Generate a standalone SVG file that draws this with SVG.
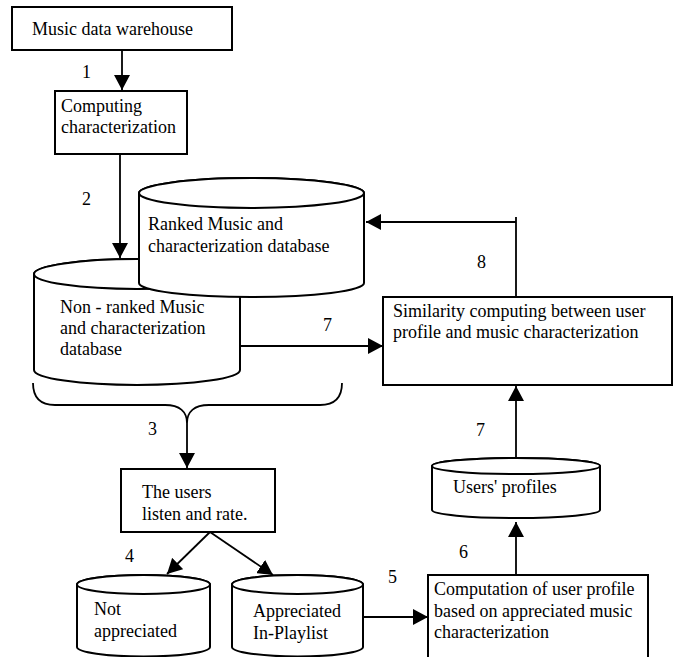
<svg xmlns="http://www.w3.org/2000/svg" width="675" height="657" viewBox="0 0 675 657">
<style>
  .box{fill:#fff;stroke:#000;stroke-width:2}
  .cyl{fill:#fff;stroke:#000;stroke-width:2}
  .ln{fill:none;stroke:#000;stroke-width:1.8}
  text{font-family:"Liberation Serif","Times New Roman",serif;font-size:18px;fill:#000}
</style>
<defs>
  <marker id="ah" markerUnits="userSpaceOnUse" markerWidth="16" markerHeight="16" viewBox="0 0 16 16" refX="15" refY="8" orient="auto">
    <path d="M0,0 L15,8 L0,16 Z" fill="#000"/>
  </marker>
</defs>
<rect width="675" height="657" fill="#fff"/>

<g id="warehouse">
  <rect class="box" x="12" y="7" width="220" height="43"/>
  <text x="32" y="35">Music data warehouse</text>
</g>
<g id="computing">
  <rect class="box" x="55" y="91" width="132" height="63"/>
  <text x="61" y="112">Computing</text>
  <text x="61" y="133">characterization</text>
</g>
<g id="nonranked">
  <path class="cyl" d="M34,274 L34,370 A103,15 0 0 0 240,370 L240,274 A103,15 0 0 0 34,274 Z"/>
  <ellipse class="cyl" cx="137" cy="274" rx="103" ry="15"/>
  <text x="60" y="313">Non - ranked Music</text>
  <text x="60" y="334">and characterization</text>
  <text x="60" y="355">database</text>
</g>
<g id="ranked">
  <path class="cyl" d="M139,193 L139,283 A112.5,14 0 0 0 364,283 L364,193 A112.5,15 0 0 0 139,193 Z"/>
  <ellipse class="cyl" cx="251.5" cy="193" rx="112.5" ry="15"/>
  <text x="148" y="230">Ranked Music and</text>
  <text x="148" y="252">characterization database</text>
</g>
<g id="similarity">
  <rect class="box" x="383" y="297" width="289" height="88"/>
  <text x="393" y="317">Similarity computing between user</text>
  <text x="393" y="338">profile and music characterization</text>
</g>
<g id="users">
  <rect class="box" x="121" y="469" width="154" height="63"/>
  <text x="142" y="498">The users</text>
  <text x="142" y="520">listen and rate.</text>
</g>
<g id="notappreciated">
  <path class="cyl" d="M77,584.5 L77,647 A66.5,9.5 0 0 0 210,647 L210,584.5 A66.5,9.5 0 0 0 77,584.5 Z"/>
  <ellipse class="cyl" cx="143.5" cy="584.5" rx="66.5" ry="9.5"/>
  <text x="94" y="615">Not</text>
  <text x="94" y="637">appreciated</text>
</g>
<g id="appreciated">
  <path class="cyl" d="M232,584.5 L232,647 A65.5,9.5 0 0 0 363,647 L363,584.5 A65.5,9.5 0 0 0 232,584.5 Z"/>
  <ellipse class="cyl" cx="297.5" cy="584.5" rx="65.5" ry="9.5"/>
  <text x="253" y="617">Appreciated</text>
  <text x="253" y="639">In-Playlist</text>
</g>
<g id="profiles">
  <path class="cyl" d="M432,466 L432,510 A84,8 0 0 0 600,510 L600,466 A84,8 0 0 0 432,466 Z"/>
  <ellipse class="cyl" cx="516" cy="466" rx="84" ry="8"/>
  <text x="453" y="493">Users' profiles</text>
</g>
<g id="computation">
  <rect class="box" x="428" y="575" width="220" height="100"/>
  <text x="434" y="595">Computation of user profile</text>
  <text x="434" y="617">based on appreciated music</text>
  <text x="434" y="638">characterization</text>
</g>

<g id="connectors">
  <line class="ln" x1="122" y1="50" x2="122" y2="90" marker-end="url(#ah)"/>
  <line class="ln" x1="120" y1="154" x2="120" y2="258" marker-end="url(#ah)"/>
  <line class="ln" x1="240" y1="346" x2="383" y2="346" marker-end="url(#ah)"/>
  <polyline class="ln" points="516,297 516,217"/>
  <line class="ln" x1="516" y1="222" x2="366" y2="222" marker-end="url(#ah)"/>
  <path class="ln" d="M33,383 C33,398 40,405 55,405 L165,405 C180,405 187,412 187,423 C187,412 194,405 209,405 L320,405 C335,405 342,398 342,383"/>
  <line class="ln" x1="187" y1="423" x2="187" y2="468" marker-end="url(#ah)"/>
  <line class="ln" x1="210" y1="532" x2="167" y2="574" marker-end="url(#ah)"/>
  <line class="ln" x1="210" y1="532" x2="273" y2="575" marker-end="url(#ah)"/>
  <line class="ln" x1="363" y1="617" x2="428" y2="617" marker-end="url(#ah)"/>
  <line class="ln" x1="516" y1="575" x2="516" y2="522" marker-end="url(#ah)"/>
  <line class="ln" x1="516" y1="458" x2="516" y2="386" marker-end="url(#ah)"/>
</g>
<g id="labels">
  <text x="82" y="78">1</text>
  <text x="82" y="205">2</text>
  <text x="148" y="435">3</text>
  <text x="125" y="562">4</text>
  <text x="388" y="583">5</text>
  <text x="459" y="558">6</text>
  <text x="323" y="331">7</text>
  <text x="476" y="436">7</text>
  <text x="477" y="268">8</text>
</g>
</svg>
